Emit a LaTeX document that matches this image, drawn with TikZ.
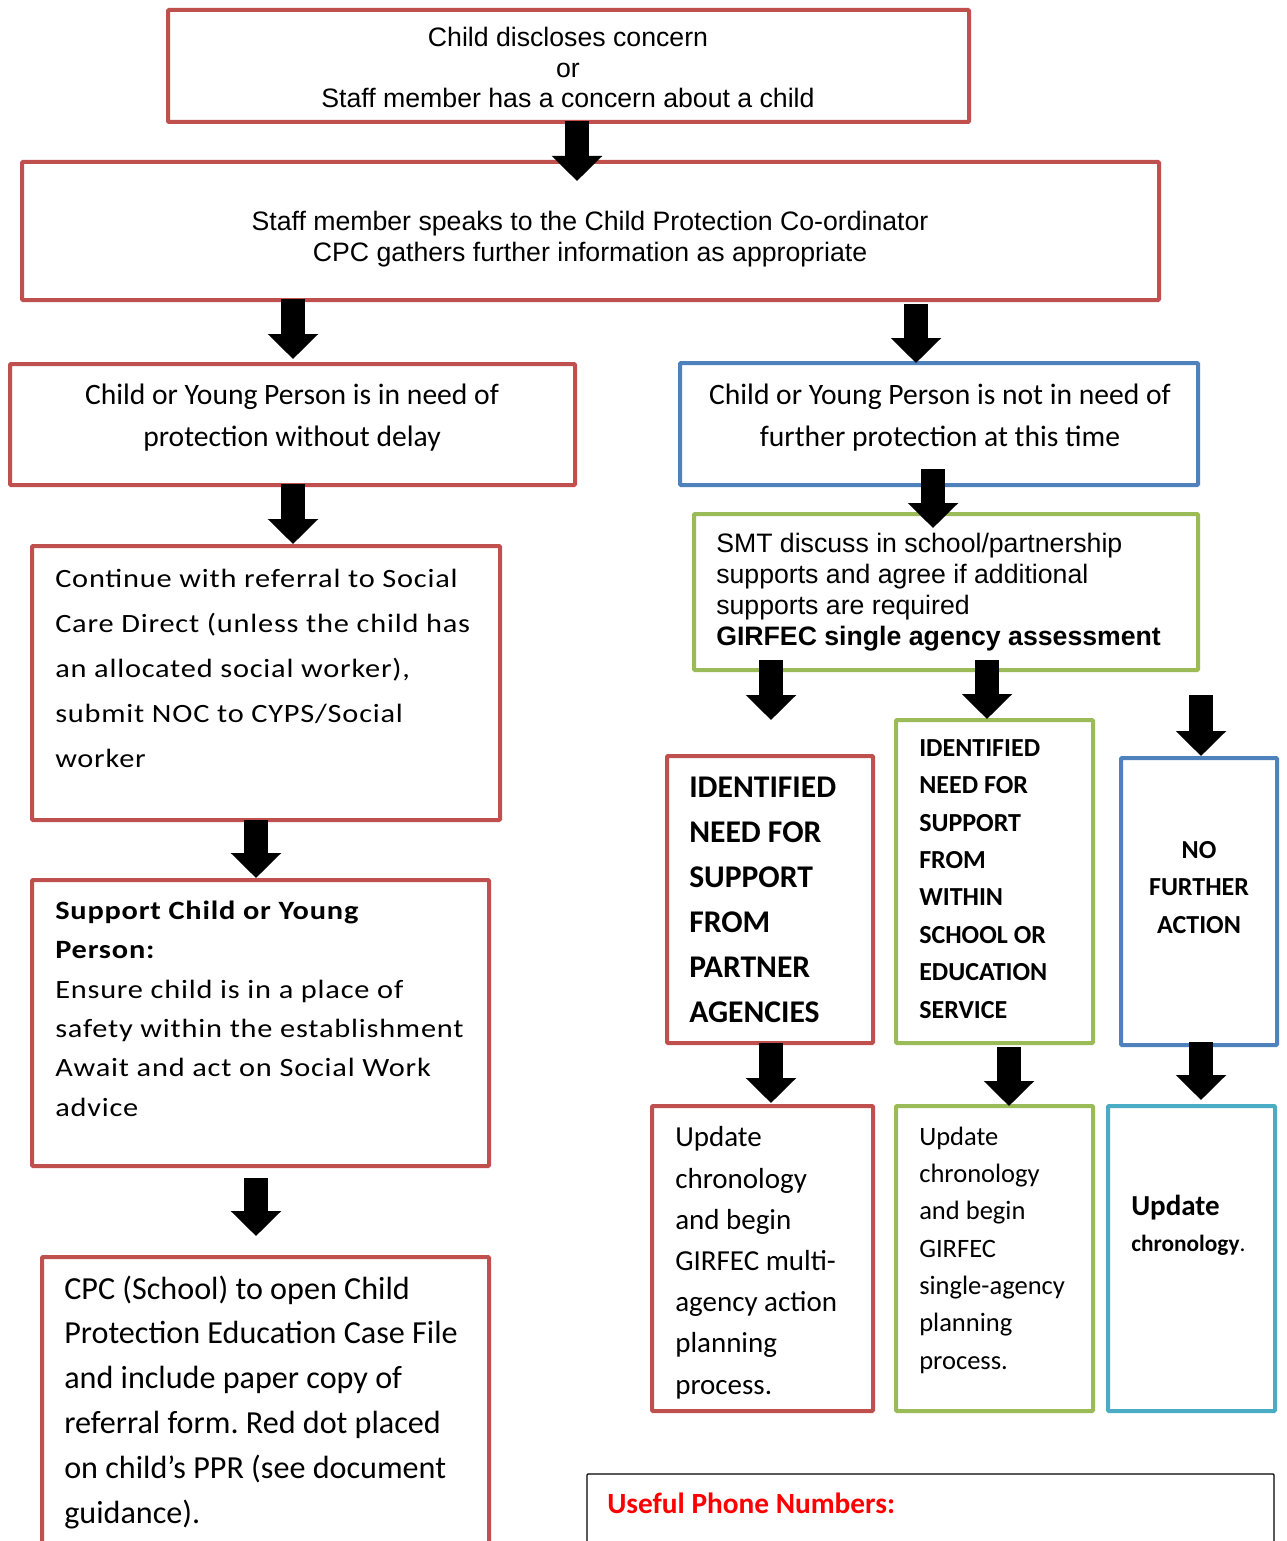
\documentclass[tikz,border=0pt]{standalone}
\usepackage{fontspec}
\setmainfont{Liberation Sans}
\newfontfamily\carl{Carlito}
\newfontfamily\carlw[FakeStretch=1.15,LetterSpace=3]{Carlito}
\usetikzlibrary{arrows.meta,fit}
\frenchspacing
\definecolor{cred}{HTML}{C0504D}
\definecolor{cblue}{HTML}{4F81BD}
\definecolor{cgreen}{HTML}{9BBB59}
\definecolor{ccyan}{HTML}{4BACC6}
\newcommand\fs[2]{\fontsize{#1}{#2}\selectfont}
\tikzset{
  bx/.style={draw=#1, line width=3pt, rounded corners=0.75pt, inner sep=0pt},
  txl/.style={inner sep=0pt, anchor=base west, align=left},
  txc/.style={inner sep=0pt, anchor=base, align=center},
  bigarr/.style={draw=black, line width=18pt, -{Triangle[width=36.75pt,length=18.75pt]}},
}
\begin{document}
\begin{tikzpicture}[x=0.75pt,y=-0.75pt]
\useasboundingbox (0,0) rectangle (1286,1541);
% boxes
\node[bx=cred,   fit={(168,10) (969,122)}] (b1) {};
\node[bx=cred,   fit={(22,162) (1159,300)}] (b2) {};
\node[bx=cred,   fit={(10,364) (575,485)}] (b3) {};
\node[bx=cblue,  fit={(680,363) (1198,485)}] (b4) {};
\node[bx=cred,   fit={(32,546) (500,820)}] (b5) {};
\node[bx=cred,   fit={(32,880) (489,1166)}] (b6) {};
\node[bx=cred,   fit={(42,1257) (489,1570)}] (b7) {};
\node[bx=cgreen, fit={(694,514) (1198,670)}] (b8) {};
\node[bx=cred,   fit={(667,756) (873,1043)}] (b9) {};
\node[bx=cgreen, fit={(896,720) (1093,1043)}] (b10) {};
\node[bx=cblue,  fit={(1121,758) (1277,1045)}] (b11) {};
\node[bx=cred,   fit={(652,1106) (873,1411)}] (b12) {};
\node[bx=cgreen, fit={(896,1106) (1093,1411)}] (b13) {};
\node[bx=ccyan,  fit={(1108,1106) (1275,1411)}] (b14) {};
\node[bx=black, line width=1pt, fit={(587,1474) (1274,1570)}] (b15) {};
% texts (anchor = baseline of the last line)
\node[txc, font=\fs{20}{23}] (t1) at (568,108) {Child discloses concern\\or\\Staff member has a concern about a child};
\node[txc, font=\fs{20}{23.25}] (t2) at (590,261) {Staff member speaks to the Child Protection Co-ordinator\\CPC gathers further information as appropriate};
\node[txc, font=\carl\fs{22.2}{31.5}] (t3) at (292,446) {Child or Young Person is in need of\\protection without delay};
\node[txc, font=\carl\fs{22.2}{31.5}] (t4) at (940,446) {Child or Young Person is not in need of\\further protection at this time};
\node[txl, font=\carlw\fs{19.8}{33.75}] (t5) at (55,767) {Continue with referral to Social\\Care Direct (unless the child has\\an allocated social worker),\\submit NOC to CYPS/Social\\worker};
\node[txl, font=\carlw\fs{19.8}{29.5}] (t6) at (55,1116) {\textbf{Support Child or Young}\\\textbf{Person:}\\Ensure child is in a place of\\safety within the establishment\\Await and act on Social Work\\advice};
\node[txl, font=\carl\fs{24.1}{33.6}] (t7) at (64,1523) {CPC (School) to open Child\\Protection Education Case File\\and include paper copy of\\referral form. Red dot placed\\on child’s PPR (see document\\guidance).};
\node[txl, font=\fs{20}{23.25}] (t8) at (716,645) {SMT discuss in school/partnership\\supports and agree if additional\\supports are required\\\textbf{GIRFEC single agency assessment}};
\node[txl, font=\carl\bfseries\fs{23.7}{33.75}] (t9) at (689,1022) {IDENTIFIED\\NEED FOR\\SUPPORT\\FROM\\PARTNER\\AGENCIES};
\node[txl, font=\carl\bfseries\fs{19.5}{28.05}] (t10) at (919,1018) {IDENTIFIED\\NEED FOR\\SUPPORT\\FROM\\WITHIN\\SCHOOL OR\\EDUCATION\\SERVICE};
\node[txc, font=\carl\bfseries\fs{19.5}{28.05}] (t11) at (1199,933) {NO\\FURTHER\\ACTION};
\node[txl, font=\carl\fs{21.75}{30.9}] (t12) at (675,1394) {Update\\chronology\\and begin\\GIRFEC multi-\\agency action\\planning\\process.};
\node[txl, font=\carl\fs{19.9}{28}] (t13) at (919,1369) {Update\\chronology\\and begin\\GIRFEC\\single-agency\\planning\\process.};
\node[txl, font=\carl\fs{21.75}{27}] (t14) at (1131,1251) {\textbf{Update}\\{\fs{17.5}{27}\textbf{chronology}.}};
\node[txl, font=\carl\bfseries\fs{22}{26}, text=red] (t15) at (607,1513) {Useful Phone Numbers:};
% arrows
\draw[bigarr, shorten <=-2.25pt, shorten >=-15.75pt] (b1.south -| 577,0) -- (b2.north -| 577,0);
\draw[bigarr, shorten <=-2.25pt, shorten >=2.25pt] (b2.south -| 293,0) -- (b3.north -| 293,0);
\draw[bigarr, shorten <=1.5pt, shorten >=-1.5pt] (b2.south -| 916,0) -- (b4.north -| 916,0);
\draw[bigarr, shorten <=-2.25pt, shorten >=0pt] (b3.south -| 293,0) -- (b5.north -| 293,0);
\draw[bigarr, shorten <=-1.5pt, shorten >=0pt] (b5.south -| 256,0) -- (b6.north -| 256,0);
\draw[bigarr, shorten <=7.5pt, shorten >=14.25pt] (b6.south -| 256,0) -- (b7.north -| 256,0);
\draw[bigarr, shorten <=-13.5pt, shorten >=-12pt] (b4.south -| 933,0) -- (b8.north -| 933,0);
\draw[bigarr, shorten <=-9pt, shorten >=25.5pt] (b8.south -| 771,0) -- (b9.north -| 771,0);
\draw[bigarr, shorten <=-9pt, shorten >=-0.75pt] (b8.south -| 987,0) -- (b10.north -| 987,0);
\draw[bigarr, shorten <=17.25pt, shorten >=0pt] (b8.south -| 1201,0) -- (b11.north -| 1201,0);
\draw[bigarr, shorten <=-1.5pt, shorten >=0.75pt] (b9.south -| 771,0) -- (b12.north -| 771,0);
\draw[bigarr, shorten <=1.5pt, shorten >=-1.5pt] (b10.south -| 1009,0) -- (b13.north -| 1009,0);
\draw[bigarr, shorten <=-3.75pt, shorten >=3pt] (b11.south -| 1201,0) -- (b14.north -| 1201,0);
\end{tikzpicture}
\end{document}
